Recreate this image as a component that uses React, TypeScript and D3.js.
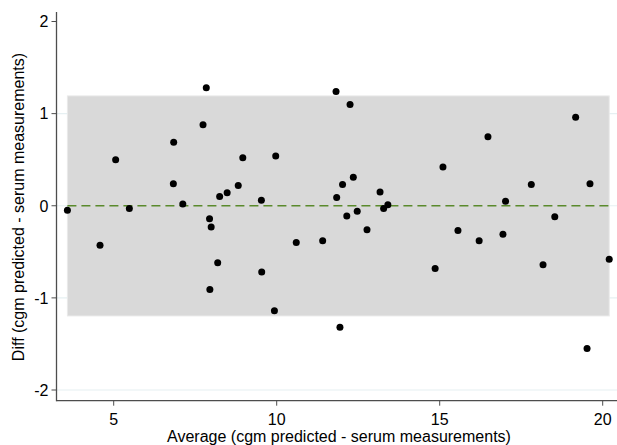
import React, { useEffect, useRef } from "react";
import * as d3 from "d3";

// Bland-Altman style: average vs difference
const avgValues = [
  3.58, 4.58, 5.06, 5.48, 6.83, 6.84, 7.12, 7.74, 7.84, 7.94, 7.99, 8.19, 7.95,
  8.25, 8.48, 8.82, 8.96, 9.53, 9.54, 9.97, 9.93, 10.6, 11.41, 11.82, 11.84,
  11.94, 12.02, 12.15, 12.25, 12.35, 12.47, 12.77, 13.17, 13.28, 13.41, 14.86,
  15.1, 15.56, 16.21, 16.48, 16.94, 17.02, 17.81, 18.17, 18.53, 19.17, 19.61,
  19.52, 20.2,
];
const diffValues = [
  -0.05, -0.43, 0.5, -0.03, 0.24, 0.69, 0.02, 0.88, 1.28, -0.14, -0.23, -0.62,
  -0.91, 0.1, 0.14, 0.22, 0.52, 0.06, -0.72, 0.54, -1.14, -0.4, -0.38, 1.24,
  0.09, -1.32, 0.23, -0.11, 1.1, 0.31, -0.06, -0.26, 0.15, -0.03, 0.01, -0.68,
  0.42, -0.27, -0.38, 0.75, -0.31, 0.05, 0.23, -0.64, -0.12, 0.96, 0.24, -1.55,
  -0.58,
];
const meanDiff = 0;
const lowerLimit = -1.196;
const upperLimit = 1.192;
const xTicks = [5, 10, 15, 20];
const yTicks = [-2, -1, 0, 1, 2];
const gridTicks = [-2, -1, 0, 1];

const W = 617;
const H = 445;

function App() {
  const ref = useRef<SVGSVGElement>(null);

  useEffect(() => {
    const svg = d3.select(ref.current);
    svg.selectAll("*").remove();

    const x = d3.scaleLinear().domain([5, 20]).range([113.7, 602.7]);
    const y = d3.scaleLinear().domain([-2, 2]).range([390, 21.5]);
    const left = 56.5, bottom = 400.7, top = 12, right = W;
    const font = "'Liberation Sans', Arial, sans-serif";
    const fs = "16px";

    const data = avgValues.map((a, i) => ({ a, d: diffValues[i] }));
    const [xMin, xMax] = d3.extent(avgValues) as [number, number];

    // gridlines
    svg.selectAll(".grid").data(gridTicks).join("line").attr("class", "grid")
      .attr("x1", left).attr("x2", right)
      .attr("y1", d => y(d)).attr("y2", d => y(d))
      .attr("stroke", "#e6f0f2").attr("stroke-width", 1.2);

    // limits of agreement band
    svg.append("rect")
      .attr("x", x(xMin)).attr("width", x(xMax) - x(xMin))
      .attr("y", y(upperLimit)).attr("height", y(lowerLimit) - y(upperLimit))
      .attr("fill", "#d9d9d9").attr("stroke", "#e9e9e9").attr("stroke-width", 1);

    // mean line
    svg.append("line")
      .attr("x1", x(xMin)).attr("x2", x(xMax))
      .attr("y1", y(meanDiff)).attr("y2", y(meanDiff))
      .attr("stroke", "#5a8a2c").attr("stroke-width", 1.6)
      .attr("stroke-dasharray", "9,5");

    // points
    svg.selectAll(".pt").data(data).join("circle").attr("class", "pt")
      .attr("cx", d => x(d.a)).attr("cy", d => y(d.d))
      .attr("r", 3.5).attr("fill", "#000");

    // axes
    const axisColor = "#4d4d4d";
    svg.append("line").attr("x1", left).attr("x2", left).attr("y1", top).attr("y2", bottom + 0.5)
      .attr("stroke", axisColor).attr("stroke-width", 1.3);
    svg.append("line").attr("x1", left).attr("x2", right).attr("y1", bottom).attr("y2", bottom)
      .attr("stroke", axisColor).attr("stroke-width", 1.3);

    svg.selectAll(".ytick").data(yTicks).join("line").attr("class", "ytick")
      .attr("x1", left - 5).attr("x2", left)
      .attr("y1", d => y(d)).attr("y2", d => y(d))
      .attr("stroke", axisColor).attr("stroke-width", 1);
    svg.selectAll(".ylab").data(yTicks).join("text").attr("class", "ylab")
      .attr("x", left - 8).attr("y", d => y(d)).attr("dy", "0.36em")
      .attr("text-anchor", "end").style("font-family", font).style("font-size", fs)
      .text(d => d);

    svg.selectAll(".xtick").data(xTicks).join("line").attr("class", "xtick")
      .attr("x1", d => x(d)).attr("x2", d => x(d))
      .attr("y1", bottom).attr("y2", bottom + 5)
      .attr("stroke", axisColor).attr("stroke-width", 1);
    svg.selectAll(".xlab").data(xTicks).join("text").attr("class", "xlab")
      .attr("x", d => x(d)).attr("y", 425)
      .attr("text-anchor", "middle").style("font-family", font).style("font-size", fs)
      .text(d => d);

    // axis titles
    svg.append("text").attr("x", 339).attr("y", 442)
      .attr("text-anchor", "middle").style("font-family", font).style("font-size", fs)
      .text("Average (cgm predicted - serum measurements)");
    svg.append("text")
      .attr("transform", `translate(23.5, 207) rotate(-90)`)
      .attr("text-anchor", "middle").style("font-family", font).style("font-size", fs)
      .text("Diff (cgm predicted - serum measurements)");
  }, []);

  return (
    <svg ref={ref} width={W} height={H}
      style={{ position: "absolute", left: 0, top: 0, background: "#fff" }} />
  );
}

export default App;
